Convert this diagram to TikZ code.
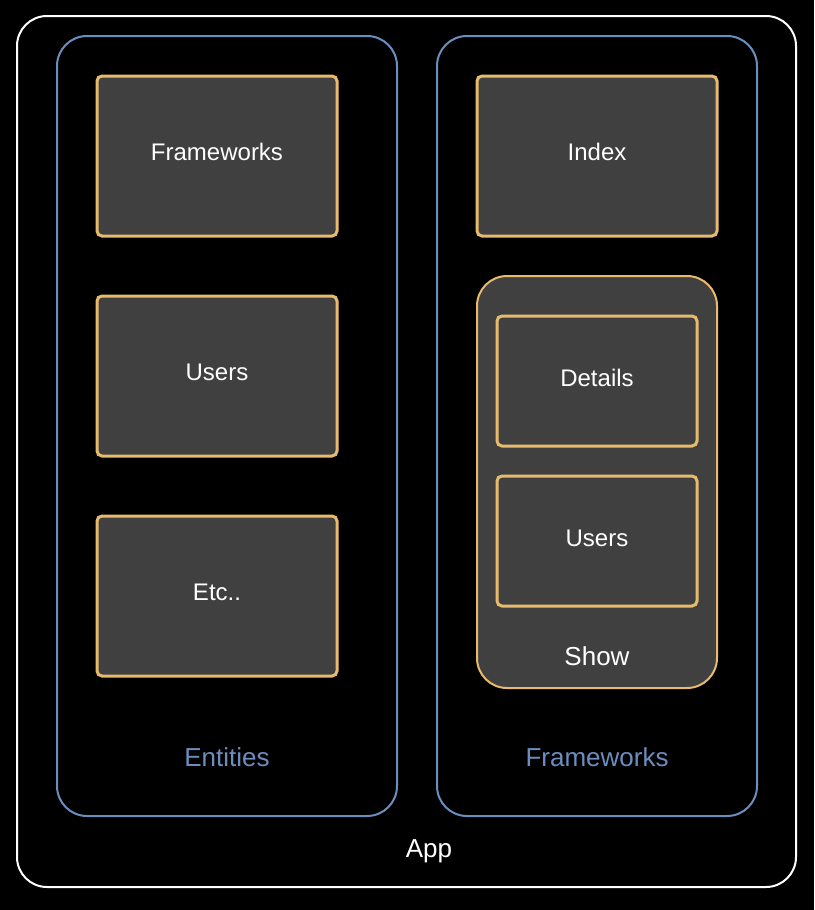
\documentclass[tikz,border=0pt]{standalone}
\usepackage{fontspec}
\setmainfont{Liberation Sans}
\usetikzlibrary{positioning}
\definecolor{boxfill}{HTML}{404040}
\definecolor{boxline}{HTML}{E8BA6C}
\definecolor{groupline}{HTML}{6C8EBF}

\tikzset{
  appbox/.style={draw=white, line width=1pt, rounded corners=15pt, inner sep=0pt},
  groupbox/.style={draw=groupline, line width=1pt, rounded corners=15pt, inner sep=0pt},
  itembox/.style={draw=boxline, fill=boxfill, line width=1.5pt, rounded corners=2.5pt,
                  text=white, font=\fontsize{12}{14}\selectfont},
  showbox/.style={draw=boxline, fill=boxfill, line width=1pt, rounded corners=15pt, inner sep=0pt},
  tag/.style={font=\fontsize{13}{15}\selectfont, inner sep=0pt}
}

\begin{document}
\begin{tikzpicture}[x=0.5pt, y=-0.5pt]
\fill[black] (0,0) rectangle (814,910);
\useasboundingbox (0,0) rectangle (814,910);

% outer frame and the two columns
\node[appbox, minimum width=389.5pt, minimum height=435.5pt] (app) at (406.5,451.5) {};
\node[groupbox, minimum width=170pt, minimum height=390pt] (entities) at (227,426) {};
\node[groupbox, minimum width=160pt, minimum height=390pt] (frameworks) at (597,426) {};

% left column
\node[itembox, minimum width=120pt, minimum height=80pt] (fw) at (217,156) {};
\node[itembox, minimum width=120pt, minimum height=80pt] (users) at (217,376) {};
\node[itembox, minimum width=120pt, minimum height=80pt] (etc) at (217,596) {};
\node[text=white, font=\fontsize{12}{14}\selectfont] (fwtext) at (217,152) {Frameworks};
\node[text=white, font=\fontsize{12}{14}\selectfont] (userstext) at (217,372) {Users};
\node[text=white, font=\fontsize{12}{14}\selectfont] (etctext) at (217,592) {Etc..};

% right column
\node[itembox, minimum width=120pt, minimum height=80pt] (index) at (597,156) {};
\node[text=white, font=\fontsize{12}{14}\selectfont] (indextext) at (597,152) {Index};
\node[showbox, minimum width=120pt, minimum height=206pt] (show) at (597,482) {};
\node[itembox, minimum width=100pt, minimum height=65pt] (details) at (597,381) {};
\node[itembox, minimum width=100pt, minimum height=65pt] (showusers) at (597,541) {};
\node[text=white, font=\fontsize{12}{14}\selectfont] (detailstext) at (597,378) {Details};
\node[text=white, font=\fontsize{12}{14}\selectfont] (showuserstext) at (597,538) {Users};

% labels
\node[tag, text=white] (showlabel) at (597,656) {Show};
\node[tag, text=groupline] (entitieslabel) at (227,757) {Entities};
\node[tag, text=groupline] (frameworkslabel) at (597,757) {Frameworks};
\node[tag, text=white] (applabel) at (429,851) {App};
\end{tikzpicture}
\end{document}
